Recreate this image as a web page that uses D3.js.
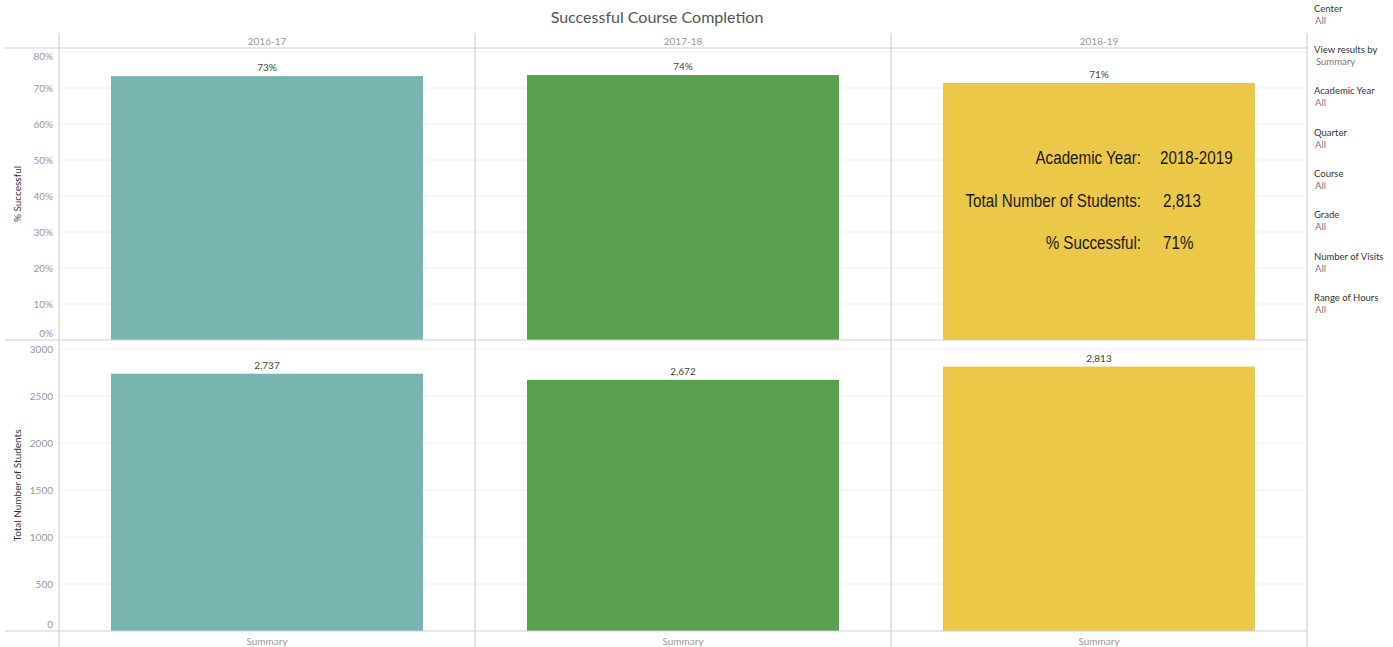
<!DOCTYPE html>
<html><head><meta charset="utf-8">
<script src="https://cdn.jsdelivr.net/npm/d3@7"></script>
<style>body{margin:0;background:#fff;}svg{display:block;font-family:Lato,"Open Sans",sans-serif;}</style>
</head><body><svg id="c" width="1393" height="647"></svg>
<script>
const years = ["2016-17","2017-18","2018-19"];
const pctSuccessful = [0.733, 0.736, 0.714];
const pctLabels = ["73%","74%","71%"];
const totalStudents = [2737, 2672, 2813];
const colors = ["#79b5b0","#59a14f","#ebc847"];
const pctTicks = [0,0.1,0.2,0.3,0.4,0.5,0.6,0.7,0.8];
const countTicks = [0,500,1000,1500,2000,2500,3000];
const filters = [["Center","All"],["View results by","Summary"],["Academic Year","All"],["Quarter","All"],["Course","All"],["Grade","All"],["Number of Visits","All"],["Range of Hours","All"]];
const annotation = [["Academic Year:","2018-2019"],["Total Number of Students:","2,813"],["% Successful:","71%"]];

const svg = d3.select("#c");
const L = 59, R = 1307, topY = 48, midY = 340, botY = 631;
const xCol = d3.scaleBand().domain(years).range([L, R]).paddingInner(0).paddingOuter(0);
const xBar = d3.scaleBand().domain(["Summary"]).range([0, xCol.bandwidth()]).paddingInner(0.25).paddingOuter(0.125);
const yPct = d3.scaleLinear().domain([0, 0.8]).range([midY, 52]);
const yCnt = d3.scaleLinear().domain([0, 3000]).range([botY, 349]);

// title
svg.append("text").attr("x", 657).attr("y", 23).attr("text-anchor","middle")
  .attr("font-size", 16).attr("fill","#555").text("Successful Course Completion");

// gridlines
const grid = svg.append("g");
grid.selectAll(".gp").data(pctTicks.filter(d=>d>0)).join("line")
  .attr("x1", L).attr("x2", R).attr("y1", d=>yPct(d)).attr("y2", d=>yPct(d))
  .attr("stroke","#f0f0f0");
grid.selectAll(".gc").data(countTicks.filter(d=>d>0)).join("line")
  .attr("x1", L).attr("x2", R).attr("y1", d=>yCnt(d)).attr("y2", d=>yCnt(d))
  .attr("stroke","#f0f0f0");

// bars
years.forEach((y,i)=>{
  const x0 = xCol(y) + xBar("Summary");
  const w = xBar.bandwidth();
  svg.append("rect").attr("x", x0).attr("y", yPct(pctSuccessful[i])).attr("width", w)
    .attr("height", yPct(0)-yPct(pctSuccessful[i])).attr("fill", colors[i]);
  svg.append("text").attr("x", x0+w/2).attr("y", yPct(pctSuccessful[i])-5).attr("text-anchor","middle")
    .attr("font-size",10).attr("fill","#444").text(pctLabels[i]);
  svg.append("rect").attr("x", x0).attr("y", yCnt(totalStudents[i])).attr("width", w)
    .attr("height", yCnt(0)-yCnt(totalStudents[i])).attr("fill", colors[i]);
  svg.append("text").attr("x", x0+w/2).attr("y", yCnt(totalStudents[i])-5).attr("text-anchor","middle")
    .attr("font-size",10).attr("fill","#444").text(d3.format(",")(totalStudents[i]));
  svg.append("text").attr("x", xCol(y)+xCol.bandwidth()/2).attr("y", 45).attr("text-anchor","middle")
    .attr("font-size",10).attr("fill","#999").text(y);
  svg.append("text").attr("x", xCol(y)+xCol.bandwidth()/2).attr("y", 645).attr("text-anchor","middle")
    .attr("font-size",10).attr("fill","#999").text("Summary");
});

// structure lines
const lines = svg.append("g").attr("stroke","#d0d0d0").attr("stroke-width",1.2);
[L, ...years.slice(1).map(y=>xCol(y)), R].forEach(x=>{
  lines.append("line").attr("x1",x).attr("x2",x).attr("y1",33).attr("y2",647);
});
[topY, midY, botY].forEach(y=>{
  lines.append("line").attr("x1",5).attr("x2",R).attr("y1",y).attr("y2",y);
});

// axes
function axisTicks(scale, ticks, fmt, yMin, yMax){
  const g = svg.append("g");
  ticks.forEach(t=>{
    let y = scale(t) + 4;
    y = Math.max(yMin, Math.min(yMax, y));
    g.append("text").attr("x", 53).attr("y", y).attr("text-anchor","end")
      .attr("font-size",10).attr("fill","#999").text(fmt(t));
  });
}
axisTicks(yPct, pctTicks, d3.format(".0%"), 60, 337);
axisTicks(yCnt, countTicks, d=>d3.format("d")(d), 352, 628);

svg.append("text").attr("transform",`translate(21,${(topY+midY)/2}) rotate(-90)`).attr("text-anchor","middle")
  .attr("font-size",10).attr("fill","#333").text("% Successful");
svg.append("text").attr("transform",`translate(21,${(midY+botY)/2}) rotate(-90)`).attr("text-anchor","middle")
  .attr("font-size",10).attr("fill","#333").text("Total Number of Students");

// annotation (condensed, like Arial Narrow)
const ann = svg.append("g").attr("font-family",'"Liberation Sans Narrow","Arial Narrow","Liberation Sans",Arial,sans-serif').attr("font-size",19).attr("fill","#1a1a1a");
annotation.forEach((a,i)=>{
  const yy = 164 + i*42.5;
  ann.append("text").attr("transform",`translate(1141,${yy}) scale(0.8,1)`).attr("text-anchor","end").text(a[0]);
  ann.append("text").attr("transform",`translate(${i===0?1160:1163},${yy}) scale(0.8,1)`).text(a[1]);
});

// filters panel
const fp = svg.append("g");
filters.forEach((f,i)=>{
  const yy = i===0 ? 12 : 53 + (i-1)*41.3;
  fp.append("text").attr("x",1314).attr("y",yy).attr("font-size",9.5).attr("fill","#333").text(f[0]);
  fp.append("text").attr("x",i===1?1316:1315).attr("y",yy+12).attr("font-size",9.5).attr("fill","#777").text(f[1]);
});
</script></body></html>
